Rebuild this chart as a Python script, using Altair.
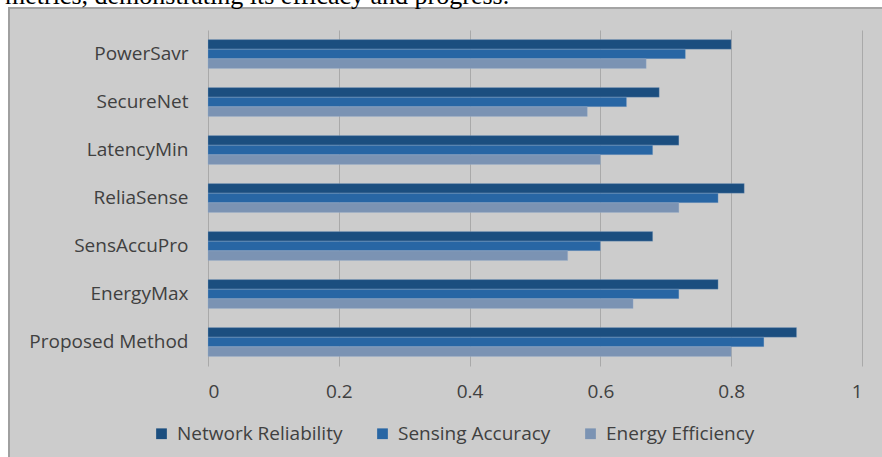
import altair as alt
import pandas as pd

# Method names, top to bottom
methods = ["PowerSavr", "SecureNet", "LatencyMin", "ReliaSense",
           "SensAccuPro", "EnergyMax", "Proposed Method"]
series = ["Network Reliability", "Sensing Accuracy", "Energy Efficiency"]

network_reliability = [0.80, 0.69, 0.72, 0.82, 0.68, 0.78, 0.90]
sensing_accuracy = [0.73, 0.64, 0.68, 0.78, 0.60, 0.72, 0.85]
energy_efficiency = [0.67, 0.58, 0.60, 0.72, 0.55, 0.65, 0.80]

colors = ["#1b4e7f", "#2866a4", "#7b93b3"]
x_ticks = [0, 0.2, 0.4, 0.6, 0.8, 1]

rows = []
for s, vals in zip(series, [network_reliability, sensing_accuracy, energy_efficiency]):
    for m, v in zip(methods, vals):
        rows.append({"Method": m, "Metric": s, "Value": v})
df = pd.DataFrame(rows)

FONT = "Open Sans"
W, H = 654, 336

bars = alt.Chart(df).mark_bar(strokeWidth=0.6, stroke="#9fb6d0", strokeOpacity=0.5).encode(
    x=alt.X("Value:Q",
            scale=alt.Scale(domain=[0, 1], nice=False),
            axis=alt.Axis(values=x_ticks, title=None, grid=True, gridColor="#a9a9a9",
                          domain=False, ticks=False, labelPadding=16,
                          labelFont=FONT, labelFontSize=19, labelColor="#404040",
                          labelExpr="datum.value == 0 ? '0' : datum.value == 1 ? '1' : format(datum.value, '.1f')")),
    y=alt.Y("Method:N", sort=methods,
            scale=alt.Scale(paddingInner=0.4, paddingOuter=0.2),
            axis=alt.Axis(title=None, domain=False, ticks=False, grid=False, labelPadding=20,
                          labelFont=FONT, labelFontSize=19, labelColor="#404040")),
    yOffset=alt.YOffset("Metric:N", sort=series),
    color=alt.Color("Metric:N", sort=series,
                    scale=alt.Scale(domain=series, range=colors),
                    legend=alt.Legend(title=None, orient="none", direction="horizontal",
                                      legendX=-56, legendY=394, columns=3,
                                      columnPadding=30, symbolType="square",
                                      symbolSize=115, symbolStrokeWidth=0,
                                      labelFont=FONT, labelFontSize=19, labelLimit=400,
                                      labelColor="#404040", labelOffset=6)),
)

# white margin above and left of the grey panel, with its border lines
frame_top = alt.Chart(pd.DataFrame({"k": [0]})).mark_rect(color="white").encode(
    x=alt.value(-208), x2=alt.value(674), y=alt.value(-30), y2=alt.value(-23))
frame_left = alt.Chart(pd.DataFrame({"k": [0]})).mark_rect(color="white").encode(
    x=alt.value(-208), x2=alt.value(-200), y=alt.value(-23), y2=alt.value(427))
edge_top = alt.Chart(pd.DataFrame({"k": [0]})).mark_rule(color="#a4a4a4", strokeWidth=2).encode(
    x=alt.value(-200), x2=alt.value(674), y=alt.value(-22))
edge_left = alt.Chart(pd.DataFrame({"k": [0]})).mark_rule(color="#a0a0a0", strokeWidth=2).encode(
    x=alt.value(-199), y=alt.value(-23), y2=alt.value(427))
caption = alt.Chart(pd.DataFrame({"t": ["metrics, demonstrating its efficacy and progress."]})).mark_text(
    font="Liberation Serif", fontSize=26, align="left", baseline="alphabetic", color="black"
).encode(x=alt.value(-203), y=alt.value(-26), text="t:N")

chart = alt.layer(frame_top, frame_left, edge_top, edge_left, caption, bars).properties(
    width=W, height=H,
    background="#cccccc",
    padding={"left": 208, "top": 30, "right": 20, "bottom": 91},
    autosize=alt.AutoSizeParams(type="none"),
).configure_view(stroke=None)

chart.save("out.html", embed_options={"renderer": "svg", "actions": False})
